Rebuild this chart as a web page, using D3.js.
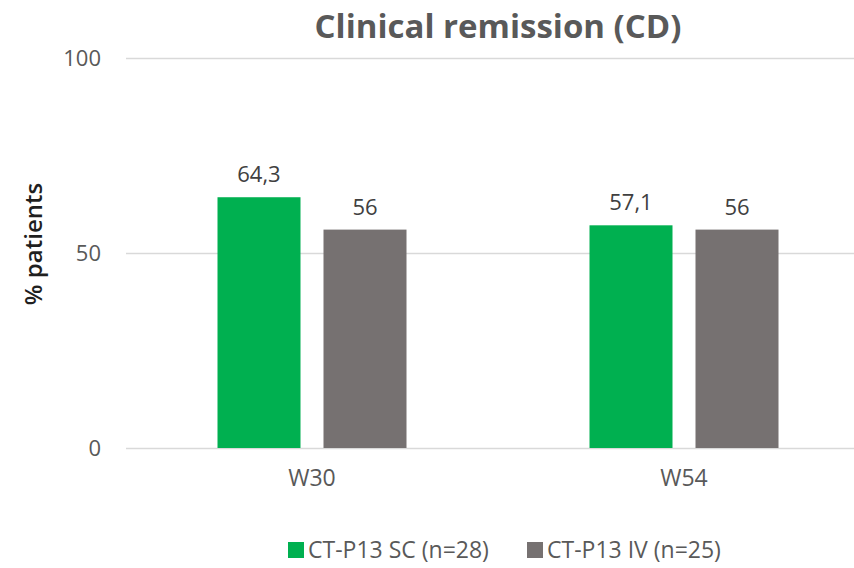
<!DOCTYPE html>
<html>
<head>
<meta charset="utf-8">
<script src="https://cdn.jsdelivr.net/npm/d3@7"></script>
<style>
  html, body { margin: 0; padding: 0; background: #fff; }
  svg { display: block; font-family: "Open Sans", sans-serif; }
</style>
</head>
<body>
<svg id="chart" width="854" height="568"></svg>
<script>
const categories = ["W30", "W54"];
const seriesNames = ["CT-P13 SC (n=28)", "CT-P13 IV (n=25)"];
const scValues = [64.3, 57.1];
const ivValues = [56, 56];
const yTicks = [0, 50, 100];
const title = "Clinical remission (CD)";
const yLabel = "% patients";

const colors = ["#00B050", "#767171"];
const series = [scValues, ivValues];

const svg = d3.select("#chart");
const plotLeft = 126, plotRight = 870, yTop = 58, yBottom = 448;

const x0 = d3.scaleBand().domain(categories).range([plotLeft, plotRight]).padding(0);
const groupW = 189;
const x1 = d3.scaleBand().domain(seriesNames)
  .range([(x0.bandwidth() - groupW) / 2, (x0.bandwidth() + groupW) / 2])
  .paddingInner(0.217).paddingOuter(0);
const y = d3.scaleLinear().domain([0, 100]).range([yBottom, yTop]);

// gridlines + y tick labels
const yAxis = d3.axisLeft(y).tickValues(yTicks).tickSize(-(plotRight - plotLeft)).tickPadding(25);
const gy = svg.append("g").attr("transform", `translate(${plotLeft},0)`).call(yAxis);
gy.select(".domain").remove();
gy.selectAll(".tick line").attr("stroke", "#d9d9d9").attr("stroke-width", 1.5);
gy.selectAll(".tick text").attr("fill", "#595959").attr("font-size", 22)
  .attr("font-family", "Open Sans, sans-serif");

// bars
const groups = svg.append("g").selectAll("g").data(categories).join("g")
  .attr("transform", d => `translate(${x0(d)},0)`);

groups.each(function(cat, ci) {
  const g = d3.select(this);
  seriesNames.forEach((s, si) => {
    const v = series[si][ci];
    g.append("rect")
      .attr("x", x1(s)).attr("y", y(v))
      .attr("width", x1.bandwidth()).attr("height", y(0) - y(v))
      .attr("fill", colors[si]);
    g.append("text")
      .attr("x", x1(s) + x1.bandwidth() / 2).attr("y", y(v) - 15)
      .attr("text-anchor", "middle").attr("fill", "#404040").attr("font-size", 22)
      .text(String(v).replace(".", ","));
  });
});

// x axis labels
const xAxis = d3.axisBottom(x0).tickSize(0).tickPadding(22);
const gx = svg.append("g").attr("transform", `translate(0,${yBottom})`).call(xAxis);
gx.select(".domain").remove();
gx.selectAll(".tick text").attr("fill", "#595959").attr("font-size", 23)
  .attr("font-family", "Open Sans, sans-serif");

// title
svg.append("text").attr("x", 498).attr("y", 38).attr("text-anchor", "middle")
  .attr("font-size", 33).attr("font-weight", "bold").attr("fill", "#595959")
  .text(title);

// y label
svg.append("text").attr("transform", "translate(42,244) rotate(-90)")
  .attr("text-anchor", "middle").attr("font-size", 24).attr("font-weight", 600)
  .attr("fill", "#1f1f1f").text(yLabel);

// legend
const legendX = [288, 527];
const leg = svg.append("g").selectAll("g").data(seriesNames).join("g")
  .attr("transform", (d, i) => `translate(${legendX[i]},542)`);
leg.append("rect").attr("width", 16).attr("height", 16).attr("fill", (d, i) => colors[i]);
leg.append("text").attr("x", 20).attr("y", 16).attr("font-size", 23).attr("fill", "#595959")
  .text(d => d);
</script>
</body>
</html>
